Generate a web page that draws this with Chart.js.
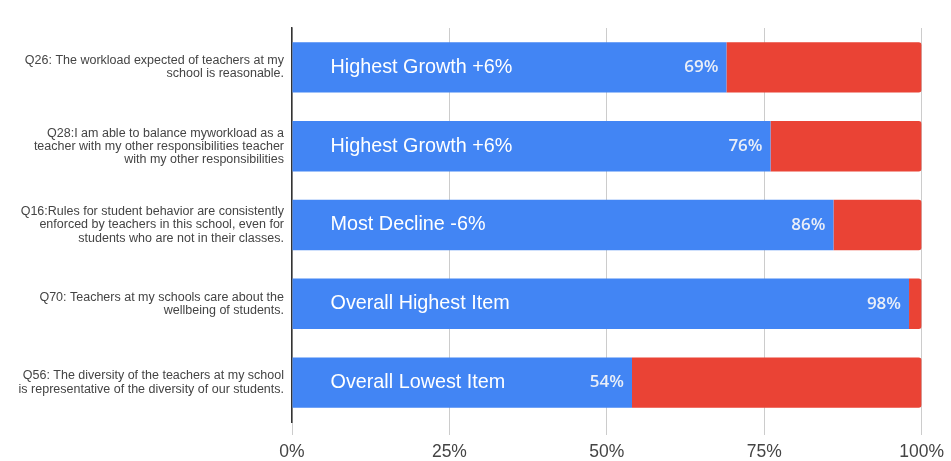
<!DOCTYPE html>
<html>
<head>
<meta charset="utf-8">
<script src="https://cdn.jsdelivr.net/npm/chart.js@4"></script>
<style>
  html, body { margin: 0; padding: 0; background: #fff; }
  #wrap { width: 951px; height: 461px; position: relative; }
</style>
</head>
<body>
<div id="wrap"><canvas id="chart"></canvas></div>
<script>
const categories = [
  ['Q26: The workload expected of teachers at my', 'school is reasonable.'],
  ['Q28:I am able to balance myworkload as a', 'teacher with my other responsibilities teacher', 'with my other responsibilities'],
  ['Q16:Rules for student behavior are consistently', 'enforced by teachers in this school, even for', 'students who are not in their classes.'],
  ['Q70: Teachers at my schools care about the', 'wellbeing of students.'],
  ['Q56: The diversity of the teachers at my school', 'is representative of the diversity of our students.']
];
const favorable = [69, 76, 86, 98, 54];
const unfavorable = [31, 24, 14, 2, 46];
const barNotes = ['Highest Growth +6%', 'Highest Growth +6%', 'Most Decline -6%', 'Overall Highest Item', 'Overall Lowest Item'];
const xTicks = [0, 25, 50, 75, 100];

// text written inside the bars
const barText = {
  id: 'barText',
  afterDatasetsDraw(chart) {
    const ctx = chart.ctx;
    const meta = chart.getDatasetMeta(0);
    ctx.save();
    ctx.textBaseline = 'middle';
    meta.data.forEach((bar, i) => {
      ctx.fillStyle = '#ffffff';
      ctx.font = '19.8px "Liberation Sans", Arial, sans-serif';
      ctx.textAlign = 'left';
      ctx.fillText(barNotes[i], bar.base + 38, bar.y);
      ctx.fillStyle = '#e9eef8';
      ctx.font = '600 17px "Open Sans", Roboto, sans-serif';
      ctx.textAlign = 'right';
      ctx.fillText(favorable[i] + '%', bar.x - 8, bar.y);
    });
    ctx.restore();
  }
};

new Chart(document.getElementById('chart'), {
  type: 'bar',
  data: {
    labels: categories,
    datasets: [
      {
        label: 'Favorable',
        data: favorable,
        backgroundColor: '#4285F4',
        barPercentage: 0.64,
        categoryPercentage: 1
      },
      {
        label: 'Unfavorable',
        data: unfavorable,
        backgroundColor: '#EA4335',
        borderRadius: { topRight: 3, bottomRight: 3 },
        borderSkipped: false,
        barPercentage: 0.64,
        categoryPercentage: 1
      }
    ]
  },
  options: {
    indexAxis: 'y',
    responsive: true,
    maintainAspectRatio: false,
    animation: false,
    layout: { padding: { top: 28, right: 10, left: 0, bottom: 0 } },
    plugins: {
      legend: { display: false },
      tooltip: { enabled: false }
    },
    scales: {
      x: {
        stacked: true,
        min: 0,
        max: 100,
        afterBuildTicks: (scale) => { scale.ticks = xTicks.map(v => ({ value: v })); },
        afterFit: (scale) => { scale.height = 39; },
        grid: { color: '#cccccc', lineWidth: 1, tickLength: 13, drawTicks: true },
        border: { display: false },
        ticks: {
          color: '#444444',
          font: { family: '"Liberation Sans", Arial, sans-serif', size: 17.5 },
          padding: 7,
          callback: (v) => v + '%'
        }
      },
      y: {
        stacked: true,
        afterFit: (scale) => { scale.width = 292; },
        grid: { display: false },
        border: { display: true, color: '#333333', width: 1.5 },
        ticks: {
          color: '#444444',
          padding: 0,
          font: { family: '"Liberation Sans", Arial, sans-serif', size: 12.5, lineHeight: 1.05 }
        }
      }
    }
  },
  plugins: [barText]
});
</script>
</body>
</html>
